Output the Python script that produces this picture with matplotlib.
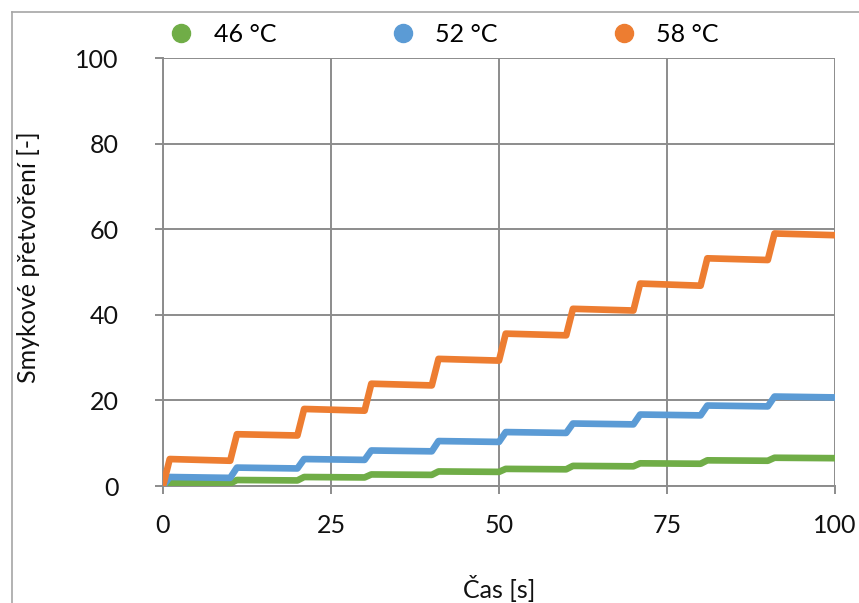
import matplotlib
matplotlib.use("Agg")
import matplotlib.pyplot as plt
from matplotlib.lines import Line2D

plt.rcParams['font.family'] = ['Lato', 'DejaVu Sans']

# time points (s): start of each load (peak after 1 s) and end of recovery
time = [0, 1, 10, 11, 20, 21, 30, 31, 40, 41, 50, 51, 60, 61, 70, 71, 80, 81, 90, 91, 100]

strain_46 = [0, 0.7, 0.6, 1.4, 1.3, 2.1, 2.0, 2.7, 2.6, 3.4, 3.3, 4.0, 3.9, 4.7, 4.6, 5.3, 5.2, 6.0, 5.9, 6.6, 6.5]
strain_52 = [0, 2.1, 1.9, 4.3, 4.1, 6.3, 6.1, 8.3, 8.1, 10.5, 10.3, 12.6, 12.4, 14.6, 14.4, 16.7, 16.5, 18.8, 18.6, 20.9, 20.7]
strain_58 = [0, 6.3, 5.9, 12.1, 11.8, 18.0, 17.6, 23.9, 23.5, 29.7, 29.3, 35.6, 35.2, 41.4, 41.0, 47.3, 46.8, 53.2, 52.8, 59.0, 58.6]

labels = ['46 °C', '52 °C', '58 °C']
colors = ['#70AD47', '#5B9BD5', '#ED7D31']
series = [strain_46, strain_52, strain_58]

xticks = [0, 25, 50, 75, 100]
yticks = [0, 20, 40, 60, 80, 100]

FS = 18
TXT = '#111111'

fig = plt.figure(figsize=(8.59, 6.03), dpi=100)
ax = fig.add_axes([163/859, 1-486/603, (835-163)/859, (486-58)/603])

for y, c, l in zip(series, colors, labels):
    ax.plot(time, y, color=c, lw=4.8, label=l, solid_joinstyle='round', solid_capstyle='round', zorder=3)

ax.set_xlim(0, 100)
ax.set_ylim(0, 100)
ax.set_xticks(xticks)
ax.set_yticks(yticks)
ax.grid(True, color='#8c8c8c', lw=1.4, zorder=0)
for s in ['top', 'right']:
    ax.spines[s].set_visible(False)
for s in ['left', 'bottom']:
    ax.spines[s].set_color('#8c8c8c')
    ax.spines[s].set_linewidth(1.4)
ax.tick_params(axis='both', direction='out', length=6, width=1.4, color='#8c8c8c',
               labelsize=FS, labelcolor=TXT)
ax.tick_params(axis='x', pad=14)
ax.tick_params(axis='y', pad=26)

fig.text(499/859, 1-588/603, 'Čas [s]', ha='center', va='center', fontsize=FS, color=TXT)
fig.text(29/859, 1-257/603, 'Smykové přetvoření [-]', ha='center', va='center', rotation=90,
         fontsize=FS, color=TXT)

handles = [Line2D([], [], ls='none', marker='o', ms=13, color=c) for c in colors]
fig.legend(handles, labels, loc='center', bbox_to_anchor=(444/859, 1-34/603), ncol=3,
           frameon=False, fontsize=FS, columnspacing=4.55, handletextpad=0.8, handlelength=1.0)

# outer frame (partially visible)
fig.add_artist(Line2D([12/859, 12/859], [0, 1-12/603], transform=fig.transFigure, color='#a6a6a6', lw=1.2))
fig.add_artist(Line2D([12/859, 1], [1-12/603, 1-12/603], transform=fig.transFigure, color='#a6a6a6', lw=1.2))

fig.savefig('out.png', dpi=100)
